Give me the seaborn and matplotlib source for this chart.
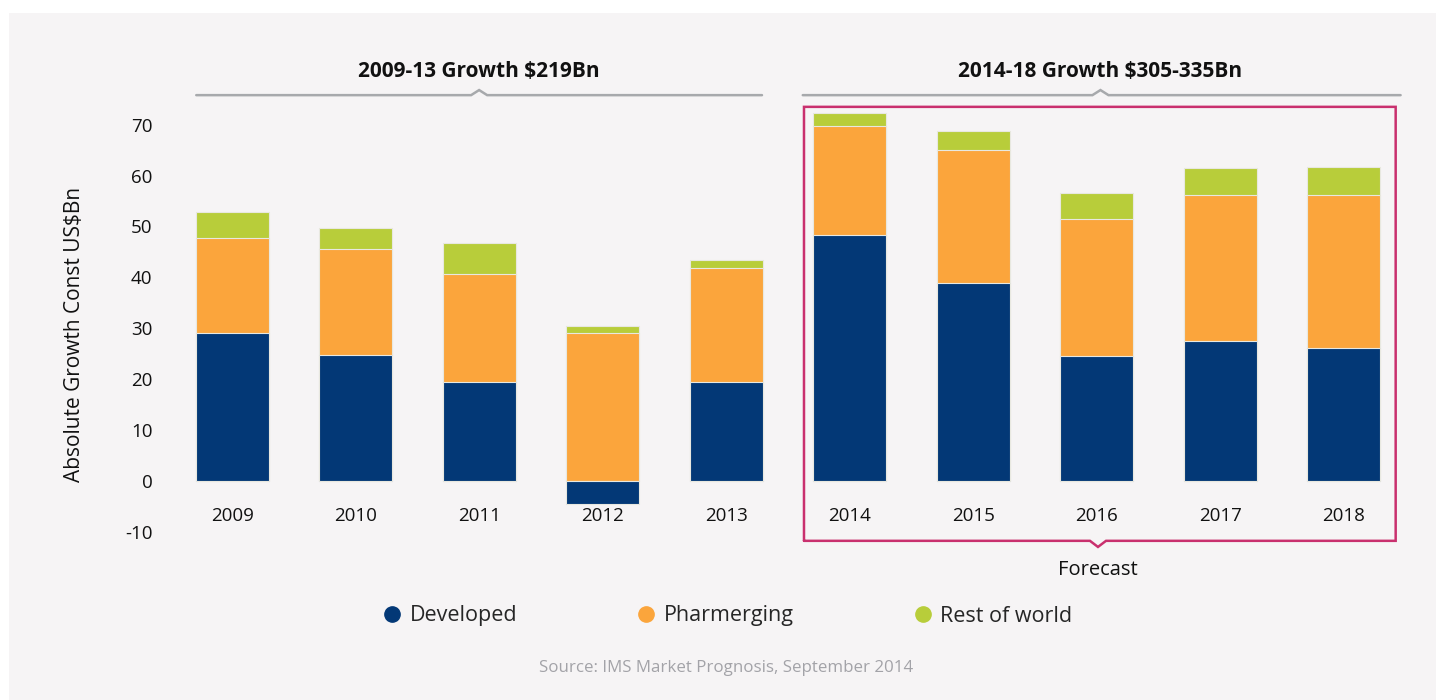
import numpy as np
import pandas as pd
import matplotlib.pyplot as plt
import seaborn as sns
from matplotlib.lines import Line2D
from matplotlib.patches import Rectangle

sns.set_theme(style="white")
plt.rcParams["font.family"] = ["Open Sans", "DejaVu Sans"]
plt.rcParams["axes.unicode_minus"] = False

# data (US$Bn)
years = ["2009", "2010", "2011", "2012", "2013", "2014", "2015", "2016", "2017", "2018"]
developed = [29.0, 24.8, 19.4, -4.5, 19.4, 48.3, 38.9, 24.6, 27.5, 26.1]
pharmerging = [18.7, 20.8, 21.3, 29.1, 22.4, 21.4, 26.1, 26.9, 28.7, 30.1]
rest_of_world = [5.1, 4.1, 6.1, 1.4, 1.6, 2.5, 3.8, 5.1, 5.2, 5.5]

series_names = ["Developed", "Pharmerging", "Rest of world"]
colors = ["#033876", "#fba53c", "#b8cd3a"]

group_labels = ["2009-13 Growth $219Bn", "2014-18 Growth $305-335Bn"]
forecast_label = "Forecast"
source = "Source: IMS Market Prognosis, September 2014"

df = pd.DataFrame({"year": years, "Developed": developed,
                   "Pharmerging": pharmerging, "Rest of world": rest_of_world})
# stack tops (negative developed sits below zero, other layers start at zero)
base = df["Developed"].clip(lower=0)
df["top_pharm"] = base + df["Pharmerging"]
df["top_row"] = df["top_pharm"] + df["Rest of world"]

fig = plt.figure(figsize=(14.36, 7), dpi=100, facecolor="white")
fig.patches.append(Rectangle((9 / 1436, 0), 1, 1 - 13 / 700, transform=fig.transFigure,
                             facecolor="#f6f4f5", edgecolor="none", zorder=-10))
ax = fig.add_axes([0.110, 0.2114, 0.8774, 0.6832])
ax.set_facecolor("none")

# draw back to front so each layer covers the one behind
bar_kw = dict(width=0.59, edgecolor="#e8e8e0", linewidth=0.8, ax=ax)
sns.barplot(data=df, x="year", y="top_row", color=colors[2], saturation=1, **bar_kw)
sns.barplot(data=df, x="year", y="top_pharm", color=colors[1], saturation=1, **bar_kw)
sns.barplot(data=df, x="year", y="Developed", color=colors[0], saturation=1, **bar_kw)

ax.set_xlim(-0.6, 9.6)
ax.set_ylim(-14, 80)
ax.set_yticks(range(-10, 71, 10))
sns.despine(ax=ax, left=True, bottom=True)
ax.spines["bottom"].set_position(("data", 0))
ax.tick_params(axis="x", length=0, pad=19, labelsize=13.5, colors="#111111")
ax.tick_params(axis="y", length=0, pad=4, labelsize=13.5, colors="#111111")
ax.set_xlabel("")
ax.set_ylabel("Absolute Growth Const US$Bn", fontsize=15, color="#111111")
ax.yaxis.set_label_coords(-0.058, 0.456)

# group brackets with a small caret in the middle
def bracket(x0, x1, xc, y, label):
    d, h = 0.065, 1.0
    ax.plot([x0, xc - d, xc, xc + d, x1], [y, y, y + h, y, y], color="#a7a9ac",
            lw=1.8, clip_on=False, solid_joinstyle="miter")
    ax.text(xc, y + 4.6, label, ha="center", va="center", fontsize=15,
            fontweight="bold", color="#111111", clip_on=False)

bracket(-0.29, 4.29, 2.0, 75.8, group_labels[0])
bracket(4.62, 9.46, 7.03, 75.8, group_labels[1])

# forecast box with caret at the bottom
bx0, bx1, by0, by1, bc = 4.63, 9.42, -11.8, 73.5, 7.01
ax.plot([bx0, bx0, bx1, bx1, bc + 0.065, bc, bc - 0.065, bx0],
        [by0, by1, by1, by0, by0, by0 - 1.2, by0, by0],
        color="#c9306e", lw=1.8, clip_on=False, solid_joinstyle="miter")
ax.text(bc, -17.5, forecast_label, ha="center", va="center", fontsize=14.5,
        color="#111111", clip_on=False)

handles = [Line2D([], [], marker="o", linestyle="none", markersize=11,
                  markerfacecolor=c, markeredgecolor=c) for c in colors]
fig.legend(handles, series_names, loc="center", bbox_to_anchor=(0.507, 1 - 616 / 700),
           ncol=3, frameon=False, fontsize=15.5, handlelength=0.8,
           handletextpad=0.4, columnspacing=5.6)

fig.text(726 / 1436, 1 - 668 / 700, source, ha="center", va="center",
         fontsize=12.2, color="#a3a3a8")

fig.savefig("out.png", dpi=100, facecolor=fig.get_facecolor())
